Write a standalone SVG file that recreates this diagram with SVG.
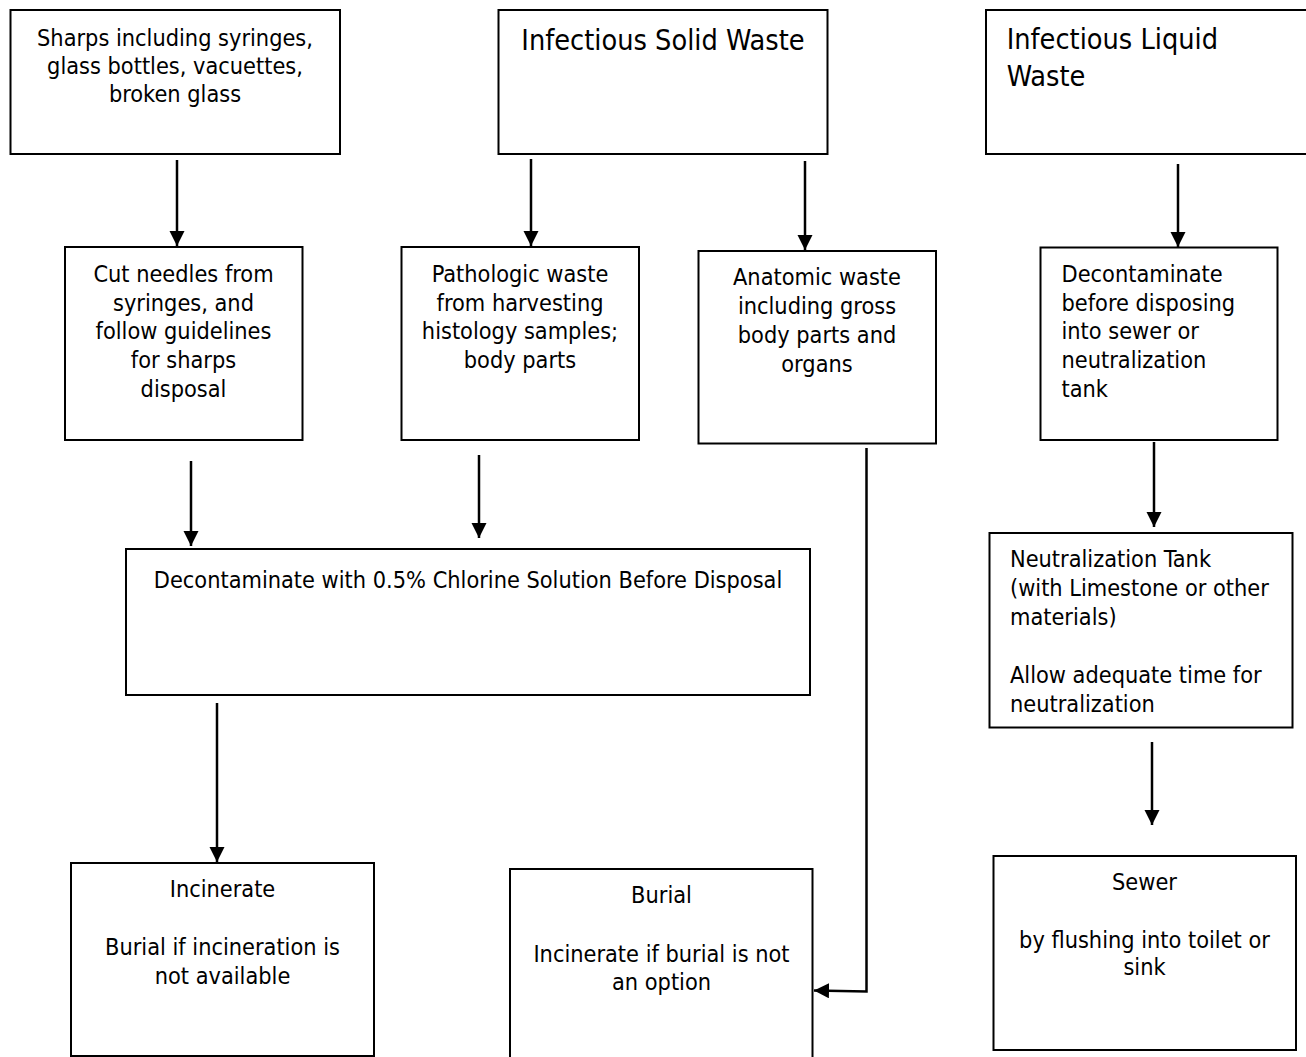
<svg xmlns="http://www.w3.org/2000/svg" width="1306" height="1057" viewBox="0 0 1306 1057">
<style>
.box{fill:#fff;stroke:#000;stroke-width:2}
.t{font-family:'DejaVu Sans Condensed','DejaVu Sans',sans-serif;font-stretch:condensed;font-size:23.3px;fill:#000}
.c{text-anchor:middle}
.h{font-size:28.6px}
.ln{fill:none;stroke:#000;stroke-width:2.5}
</style>
<defs>
<marker id="ah" markerUnits="userSpaceOnUse" markerWidth="16" markerHeight="16" refX="15" refY="7.5" orient="auto">
<path d="M0,0 L15,7.5 L0,15 z" fill="#000"/>
</marker>
</defs>
<rect width="1306" height="1057" fill="#fff"/>
<g id="connectors">
<line class="ln" x1="177" y1="160" x2="177" y2="246" marker-end="url(#ah)"/>
<line class="ln" x1="531" y1="159" x2="531" y2="246" marker-end="url(#ah)"/>
<line class="ln" x1="805" y1="161" x2="805" y2="250" marker-end="url(#ah)"/>
<line class="ln" x1="1178" y1="164" x2="1178" y2="247" marker-end="url(#ah)"/>
<line class="ln" x1="191" y1="461" x2="191" y2="546" marker-end="url(#ah)"/>
<line class="ln" x1="479" y1="455" x2="479" y2="538" marker-end="url(#ah)"/>
<line class="ln" x1="1154" y1="442" x2="1154" y2="527" marker-end="url(#ah)"/>
<line class="ln" x1="217" y1="703" x2="217" y2="862" marker-end="url(#ah)"/>
<line class="ln" x1="1152" y1="742" x2="1152" y2="825" marker-end="url(#ah)"/>
<polyline class="ln" points="866.5,448 866.5,991.5 814,990.5" marker-end="url(#ah)"/>
</g>
<g id="sharps">
<rect class="box" x="10.5" y="10" width="329.5" height="144"/>
<text class="t c" x="175" y="45.7">Sharps including syringes,</text>
<text class="t c" x="175" y="74">glass bottles, vacuettes,</text>
<text class="t c" x="175" y="101.7">broken glass</text>
</g>
<g id="solid">
<rect class="box" x="498.5" y="10" width="329" height="144"/>
<text class="t c h" x="663" y="50">Infectious Solid Waste</text>
</g>
<g id="liquid">
<rect class="box" x="986" y="10" width="330" height="144"/>
<text class="t h" x="1006.7" y="49.3">Infectious Liquid</text>
<text class="t h" x="1006.7" y="86">Waste</text>
</g>
<g id="cut">
<rect class="box" x="65" y="247" width="237.5" height="193"/>
<text class="t c" x="183.5" y="281.7">Cut needles from</text>
<text class="t c" x="183.5" y="310.5">syringes, and</text>
<text class="t c" x="183.5" y="339">follow guidelines</text>
<text class="t c" x="183.5" y="367.7">for sharps</text>
<text class="t c" x="183.5" y="396.5">disposal</text>
</g>
<g id="pathologic">
<rect class="box" x="401.5" y="247" width="237.5" height="193"/>
<text class="t c" x="520" y="281.7">Pathologic waste</text>
<text class="t c" x="520" y="310.5">from harvesting</text>
<text class="t c" x="520" y="339">histology samples;</text>
<text class="t c" x="520" y="367.7">body parts</text>
</g>
<g id="anatomic">
<rect class="box" x="698.5" y="251" width="237.5" height="192.5"/>
<text class="t c" x="817" y="285">Anatomic waste</text>
<text class="t c" x="817" y="314">including gross</text>
<text class="t c" x="817" y="342.7">body parts and</text>
<text class="t c" x="817" y="371.5">organs</text>
</g>
<g id="decon-liquid">
<rect class="box" x="1040.5" y="247.5" width="237" height="192.5"/>
<text class="t" x="1061.5" y="281.7">Decontaminate</text>
<text class="t" x="1061.5" y="310.5">before disposing</text>
<text class="t" x="1061.5" y="339">into sewer or</text>
<text class="t" x="1061.5" y="367.7">neutralization</text>
<text class="t" x="1061.5" y="396.5">tank</text>
</g>
<g id="chlorine">
<rect class="box" x="126" y="549" width="684" height="146"/>
<text class="t c" x="468" y="588">Decontaminate with 0.5% Chlorine Solution Before Disposal</text>
</g>
<g id="neutral">
<rect class="box" x="989.5" y="533" width="303" height="194.5"/>
<text class="t" x="1010" y="567.3">Neutralization Tank</text>
<text class="t" x="1010" y="596">(with Limestone or other</text>
<text class="t" x="1010" y="625">materials)</text>
<text class="t" x="1010" y="683.3">Allow adequate time for</text>
<text class="t" x="1010" y="711.7">neutralization</text>
</g>
<g id="incinerate">
<rect class="box" x="71" y="863" width="303" height="193"/>
<text class="t c" x="222.5" y="897.3">Incinerate</text>
<text class="t c" x="222.5" y="955">Burial if incineration is</text>
<text class="t c" x="222.5" y="984">not available</text>
</g>
<g id="burial">
<rect class="box" x="510" y="869" width="302.5" height="195"/>
<text class="t c" x="661.5" y="903.3">Burial</text>
<text class="t c" x="661.5" y="961.7">Incinerate if burial is not</text>
<text class="t c" x="661.5" y="990">an option</text>
</g>
<g id="sewer">
<rect class="box" x="993.5" y="856" width="302.5" height="194"/>
<text class="t c" x="1144.5" y="890">Sewer</text>
<text class="t c" x="1144.5" y="948.3">by flushing into toilet or</text>
<text class="t c" x="1144.5" y="975">sink</text>
</g>
</svg>
